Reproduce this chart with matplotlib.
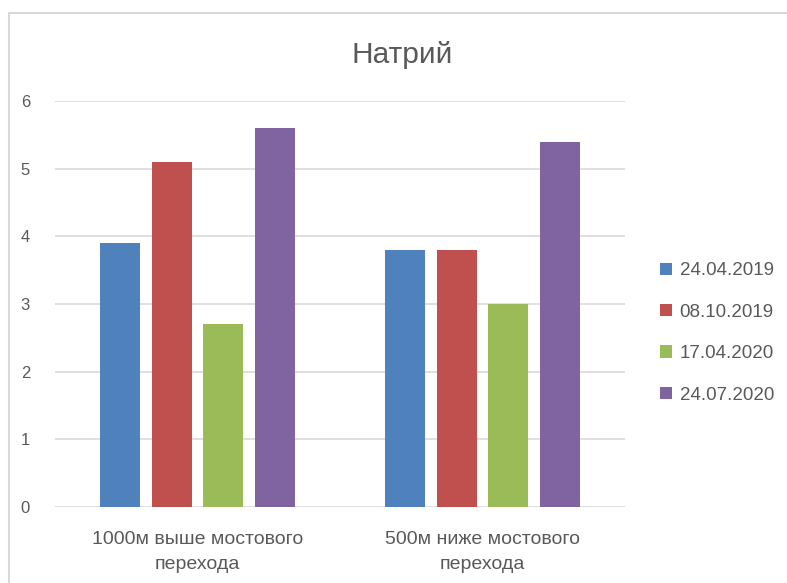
import matplotlib.pyplot as plt
import numpy as np
from matplotlib.patches import Rectangle

sites = ["1000м выше мостового\nперехода", "500м ниже мостового\nперехода"]
dates = ["24.04.2019", "08.10.2019", "17.04.2020", "24.07.2020"]
sodium = [
    [3.9, 3.8],
    [5.1, 3.8],
    [2.7, 3.0],
    [5.6, 5.4],
]
colors = ["#4F81BD", "#C0504D", "#9BBB59", "#8064A2"]

plt.rcParams['font.family'] = ['Liberation Sans', 'DejaVu Sans']

fig = plt.figure(figsize=(7.87, 5.83), dpi=100)
ax = fig.add_axes([55/787, 76/583, 570/787, 406/583])

# outer chart frame
fig.patches.append(Rectangle((9/787, -0.1), 1.2, 0.1 + (583-13)/583, transform=fig.transFigure,
                             fill=False, edgecolor="#d9d9d9", linewidth=1.5))

x = np.arange(len(sites))
width = 0.14
step = 0.181
for i, (d, vals) in enumerate(zip(dates, sodium)):
    ax.bar(x + (i - 1.5) * step, vals, width, color=colors[i], label=d, zorder=3)

ax.set_xlim(-0.5, 1.5)
ax.set_ylim(0, 6)
ax.set_yticks(range(0, 7))
ax.grid(axis='y', color="#d9d9d9", linewidth=1.2, zorder=0)
for s in ax.spines.values():
    s.set_visible(False)
ax.tick_params(axis='both', length=0, labelsize=12, colors="#595959")
ax.tick_params(axis='y', pad=18)
ax.tick_params(axis='x', pad=17.5, labelsize=14)
ax.set_xticks(x)
ax.set_xticklabels(sites, linespacing=1.6)

fig.text(402/787, 1 - 55/583, "Натрий", ha='center', va='center', fontsize=21.5,
         color="#595959")

leg = fig.legend(loc='center left', bbox_to_anchor=(643/787, 1 - 333/583), frameon=False,
                 labelspacing=1.3, handlelength=0.65, handleheight=0.65,
                 handletextpad=0.4, prop={'size': 13.5})
for t in leg.get_texts():
    t.set_color("#595959")

fig.savefig("out.png", dpi=100)
